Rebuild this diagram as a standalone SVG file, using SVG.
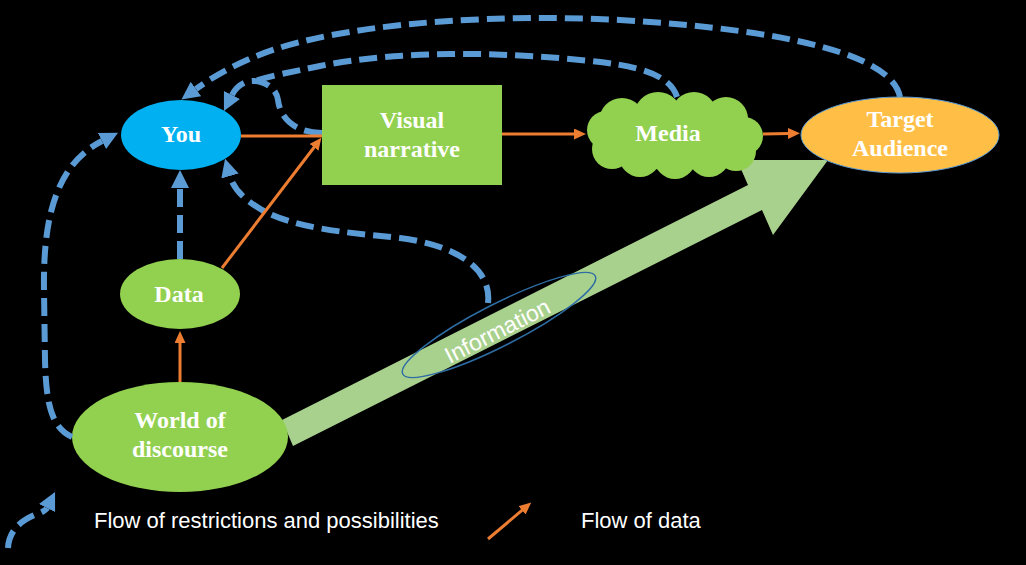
<svg xmlns="http://www.w3.org/2000/svg" width="1026" height="565" viewBox="0 0 1026 565">
  <defs>
    <style>
      .dash { fill: none; stroke: #5B9BD5; stroke-width: 6; stroke-dasharray: 18 8; }
      .data { fill: none; stroke: #ED7D31; stroke-width: 3; }
      .green { fill: #92D050; }
      .lbl { font-family: "Liberation Serif", "DejaVu Serif", serif; font-weight: bold; font-size: 24px; fill: #FFFFFF; text-anchor: middle; }
      .leg { font-family: "Liberation Sans", Arial, sans-serif; font-size: 22px; fill: #FFFFFF; }
    </style>
    <marker id="blueHead" viewBox="0 0 18 18" refX="0" refY="9" markerWidth="18" markerHeight="18" markerUnits="userSpaceOnUse" orient="auto">
      <path d="M0,0 L18,9 L0,18 z" fill="#5B9BD5"/>
    </marker>
    <marker id="orangeHead" viewBox="0 0 12 11" refX="1" refY="5.5" markerWidth="12" markerHeight="11" markerUnits="userSpaceOnUse" orient="auto">
      <path d="M0,0 L12,5.5 L0,11 z" fill="#ED7D31"/>
    </marker>
  </defs>
  <rect x="0" y="0" width="1026" height="565" fill="#000000"/>

  <g id="information-arrow">
    <polygon points="282,420 748,185 737,160 828,160 773,235 762,210 293,446" fill="#A9D18E"/>
  </g>

  <g id="node-you">
    <ellipse cx="181" cy="135" rx="60" ry="35" fill="#00B0F0"/>
    <text class="lbl" x="181" y="142">You</text>
  </g>
  <g id="node-data">
    <ellipse cx="180" cy="294" rx="60" ry="35" class="green"/>
    <text class="lbl" x="179" y="302">Data</text>
  </g>
  <g id="node-world">
    <ellipse cx="180" cy="437" rx="108" ry="55" class="green"/>
    <text class="lbl" x="180" y="428">World of</text>
    <text class="lbl" x="180" y="457">discourse</text>
  </g>
  <g id="node-visual-narrative">
    <rect x="322" y="85" width="180" height="100" class="green"/>
    <text class="lbl" x="412" y="128">Visual</text>
    <text class="lbl" x="412" y="157">narrative</text>
  </g>
  <g id="node-media">
    <g class="green">
      <ellipse cx="675" cy="136" rx="80" ry="34"/>
      <circle cx="622" cy="121" r="23"/>
      <circle cx="658" cy="116" r="24"/>
      <circle cx="694" cy="115" r="23"/>
      <circle cx="726" cy="119" r="22"/>
      <circle cx="744" cy="136" r="19"/>
      <circle cx="736" cy="151" r="20"/>
      <circle cx="709" cy="156" r="21"/>
      <circle cx="675" cy="158" r="21"/>
      <circle cx="640" cy="156" r="21"/>
      <circle cx="612" cy="149" r="20"/>
      <circle cx="606" cy="130" r="19"/>
    </g>
    <text class="lbl" x="668" y="141">Media</text>
  </g>
  <g id="node-target-audience">
    <ellipse cx="900" cy="135" rx="99" ry="38" fill="#FFBF47" stroke="#5B9BD5" stroke-width="1"/>
    <text class="lbl" x="900" y="127">Target</text>
    <text class="lbl" x="900" y="156">Audience</text>
  </g>
  <g id="node-information">
    <ellipse cx="499" cy="325" rx="108" ry="21" fill="none" stroke="#2E6DA4" stroke-width="1.5" transform="rotate(-27 499 325)"/>
    <text x="0" y="0" font-family="Liberation Sans, Arial, sans-serif" font-size="23" fill="#FFFFFF" text-anchor="middle" transform="translate(501 338) rotate(-27)">Information</text>
  </g>

  <g id="connectors">
    <path class="dash" d="M900,97 C892,55 790,30 620,20 C500,14 380,22 300,42 C260,52 225,68 196,89" marker-end="url(#blueHead)"/>
    <path class="dash" d="M677,97 C670,75 640,65 580,60 C500,52 400,50 320,66 C292,72 268,76 252,82"/>
    <path class="dash" d="M322,133 C295,133 280,118 278,100 C276,85 258,78 246,82 C239,85 235,89 232,95" marker-end="url(#blueHead)"/>
    <path class="dash" d="M72,437 C52,428 46,405 45,360 L44,290 C43,220 55,165 102,141" marker-end="url(#blueHead)"/>
    <path class="dash" d="M180,259 L180,188" marker-end="url(#blueHead)"/>
    <path class="dash" d="M488,303 C492,268 455,245 400,238 C340,232 295,228 262,210 C245,200 234,190 230,176" marker-end="url(#blueHead)"/>

    <path class="data" d="M241,136 L322,136"/>
    <path class="data" d="M222,268 L314.7,146.5" marker-end="url(#orangeHead)"/>
    <path class="data" d="M180,382 L180,342" marker-end="url(#orangeHead)"/>
    <path class="data" d="M502,134 L575,134" marker-end="url(#orangeHead)"/>
    <path class="data" d="M763,134 L789,133.5" marker-end="url(#orangeHead)"/>
  </g>

  <g id="legend">
    <path class="dash" d="M8,548 C9,528 25,518 40,513 C44,511 46,510 47,508" marker-end="url(#blueHead)"/>
    <text class="leg" x="94" y="528">Flow of restrictions and possibilities</text>
    <path class="data" d="M488,539 L522.8,509.7" marker-end="url(#orangeHead)"/>
    <text class="leg" x="581" y="528">Flow of data</text>
  </g>
</svg>
